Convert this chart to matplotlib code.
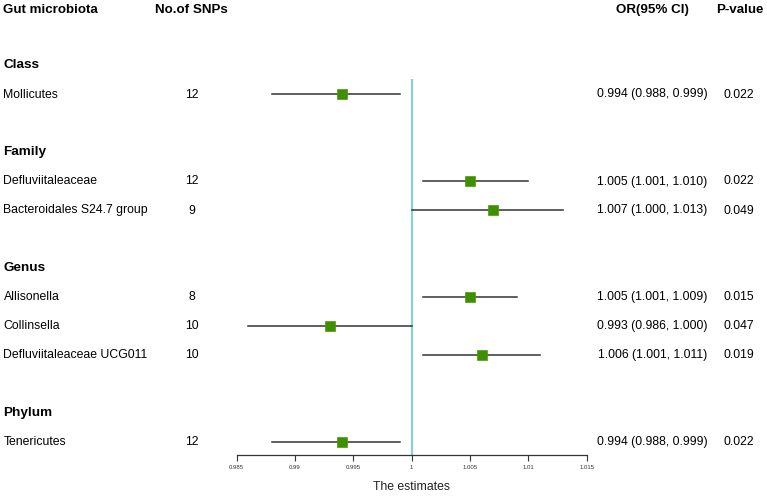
import matplotlib
matplotlib.use("Agg")
import matplotlib.pyplot as plt
import matplotlib.transforms as mtransforms

plt.rcParams['font.family'] = ['Liberation Sans', 'DejaVu Sans']

# ---- data ----
groups = ["Class", "Family", "Genus", "Phylum"]
group_members = [
    ["Mollicutes"],
    ["Defluviitaleaceae", "Bacteroidales S24.7 group"],
    ["Allisonella", "Collinsella", "Defluviitaleaceae UCG011"],
    ["Tenericutes"],
]
snps = [12, 12, 9, 8, 10, 10, 12]
or_est = [0.994, 1.005, 1.007, 1.005, 0.993, 1.006, 0.994]
ci_lo = [0.988, 1.001, 1.000, 1.001, 0.986, 1.001, 0.988]
ci_hi = [0.999, 1.010, 1.013, 1.009, 1.000, 1.011, 0.999]
pvals = ["0.022", "0.022", "0.049", "0.015", "0.047", "0.019", "0.022"]
xticks = [0.985, 0.99, 0.995, 1.0, 1.005, 1.01, 1.015]
xtick_labels = ["0.985", "0.99", "0.995", "1", "1.005", "1.01", "1.015"]

W, H = 767, 496
fig = plt.figure(figsize=(W / 100, H / 100), dpi=100)

ax_left, ax_right = 236.7, 586.7
ax_top, ax_bot = 0, 455
ax = fig.add_axes([ax_left / W, (H - ax_bot) / H, (ax_right - ax_left) / W, (ax_bot - ax_top) / H])

# row layout (row index from top, each row ~29px)
r0_px, row_px = 7.5, 29.0
ax.set_ylim((ax_bot - r0_px) / row_px, (ax_top - r0_px) / row_px)
ax.set_xlim(0.985, 1.015)

# build rows
group_rows = []
item_rows = []
r = 2
for g, members in zip(groups, group_members):
    group_rows.append(r)
    r += 1
    for m in members:
        item_rows.append(r)
        r += 1
    r += 1
names = [m for members in group_members for m in members]

# vertical reference line
ax.plot([1.0, 1.0], [2.48, ax.get_ylim()[0]], color="#8ccfd8", lw=1.6, zorder=1, solid_capstyle="butt")

for y, est, lo, hi in zip(item_rows, or_est, ci_lo, ci_hi):
    ax.plot([lo, hi], [y, y], color="#333333", lw=1.1, zorder=2)
    ax.plot([est], [y], marker="s", ms=7.2, color="#3f8f00", mec="#4a9a10", mew=0.5, zorder=3)

for s in ["top", "right", "left"]:
    ax.spines[s].set_visible(False)
ax.spines["bottom"].set_color("#333333")
ax.spines["bottom"].set_linewidth(0.9)
ax.set_yticks([])
ax.set_xticks(xticks)
ax.set_xticklabels(xtick_labels, fontsize=4.3, color="#333333")
ax.tick_params(axis="x", length=4, width=0.8, color="#333333", pad=3)
ax.set_xlabel("The estimates", fontsize=8.8, labelpad=8, color="#222222")
ax.patch.set_alpha(0)

# text columns (figure x in px, data y)
trans = mtransforms.blended_transform_factory(fig.transFigure, ax.transData)
def fx(px):
    return px / W

body_fs = 8.8
head_fs = 9.6
grp_fs = 9.7
left_px = 3.5

fig.text(left_px / W, 1 - 10 / H, "Gut microbiota", fontsize=head_fs, fontweight="bold", ha="left", va="center")
fig.text(191.5 / W, 1 - 10 / H, "No.of SNPs", fontsize=head_fs, fontweight="bold", ha="center", va="center")
fig.text(652.5 / W, 1 - 10 / H, "OR(95% CI)", fontsize=head_fs, fontweight="bold", ha="center", va="center")
fig.text(740 / W, 1 - 10 / H, "P-value", fontsize=head_fs, fontweight="bold", ha="center", va="center")

for g, y in zip(groups, group_rows):
    ax.text(fx(left_px), y, g, transform=trans, fontsize=grp_fs, fontweight="bold", ha="left", va="center")

for y, name, n, est, lo, hi, p in zip(item_rows, names, snps, or_est, ci_lo, ci_hi, pvals):
    ax.text(fx(left_px), y, name, transform=trans, fontsize=body_fs, ha="left", va="center")
    ax.text(fx(191.5), y, str(n), transform=trans, fontsize=body_fs, ha="center", va="center")
    ax.text(fx(652.5), y, f"{est:.3f} ({lo:.3f}, {hi:.3f})", transform=trans, fontsize=body_fs, ha="center", va="center")
    ax.text(fx(738.5), y, p, transform=trans, fontsize=body_fs, ha="center", va="center")

fig.savefig("out.png", dpi=100, facecolor="white")
